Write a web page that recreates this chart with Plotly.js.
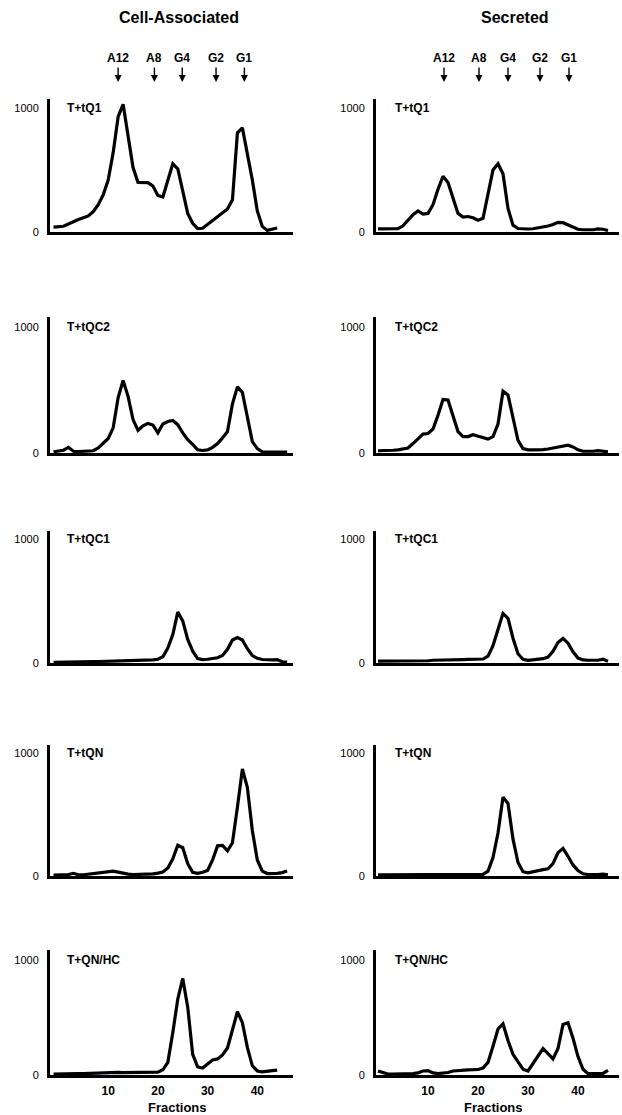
<!DOCTYPE html>
<html>
<head>
<meta charset="utf-8">
<script src="https://cdn.plot.ly/plotly-3.0.1.min.js"></script>
<style>html,body{margin:0;padding:0;background:#fff;}#chart{width:622px;height:1115px;}</style>
</head>
<body>
<div id="chart"></div>
<script>
// ---------------- DATA ----------------
const columnTitles = ['Cell-Associated', 'Secreted'];
const panelLabels = ['T+tQ1', 'T+tQC2', 'T+tQC1', 'T+tQN', 'T+QN/HC'];
const markerLabels = ['A12', 'A8', 'G4', 'G2', 'G1'];
const markerFractionsCell = [12, 19.3, 24.9, 31.7, 37.4];
const markerFractionsSecreted = [13.2, 20.2, 26, 32.4, 38.2];
const xTickValues = [10, 20, 30, 40];
const yTickValues = [0, 1000];
const yTickText = ['0', '1000'];
const xAxisTitle = 'Fractions';

const fractionsCell = [-1,0,1,2,3,4,5,6,7,8,9,10,11,12,13,14,15,16,17,18,19,20,21,22,23,24,25,26,27,28,29,30,31,32,33,34,35,36,37,38,39,40,41,42,43,44,45,46];
const fractionsSecreted = [0,1,2,3,4,5,6,7,8,9,10,11,12,13,14,15,16,17,18,19,20,21,22,23,24,25,26,27,28,29,30,31,32,33,34,35,36,37,38,39,40,41,42,43,44,45,46];

// Cell-associated (fractions -1 .. 46)
const cellTQ1   = [40,42,46,65,85,100,115,130,165,220,300,420,640,930,1030,760,520,400,400,398,370,295,282,410,550,510,330,150,70,28,30,60,95,125,155,185,260,800,840,640,420,170,45,13,20,32,null,null];
const cellTQC2  = [10,15,22,45,14,12,12,14,18,40,80,115,200,440,575,450,265,180,215,235,222,160,230,250,258,225,160,105,68,25,20,25,45,75,120,170,390,525,480,290,90,35,10,8,8,8,8,8];
const cellTQC1  = [5,5,6,6,7,8,9,10,11,12,13,14,15,16,17,18,18,19,20,22,25,30,50,120,230,410,340,190,95,35,28,30,35,42,60,110,185,205,185,115,60,38,28,25,25,28,10,8];
const cellTQN   = [8,8,8,12,22,10,10,15,18,22,28,35,40,32,22,15,11,12,14,16,18,24,32,65,140,250,230,100,30,22,30,45,130,245,248,205,270,560,870,720,370,130,40,20,20,22,28,40];
const cellTQNHC = [8,10,10,10,12,12,12,14,15,16,18,20,22,22,20,20,20,20,20,20,20,25,45,110,370,660,840,590,180,70,60,95,130,140,175,235,400,550,455,240,80,35,28,30,38,43,null,null];

// Secreted (fractions 0 .. 46)
const secTQ1   = [25,25,25,25,27,50,95,140,170,145,150,220,345,450,400,270,150,120,125,115,95,110,300,500,550,470,190,55,28,25,24,26,32,40,48,60,78,75,58,35,22,18,18,18,25,22,12];
const secTQC2  = [18,18,20,22,25,30,40,75,110,150,155,190,300,425,420,300,170,130,130,145,135,125,110,130,230,490,460,280,100,35,25,25,25,27,32,38,45,55,62,48,25,14,12,14,18,16,10];
const secTQC1  = [15,15,15,16,16,17,17,18,18,18,18,22,24,25,26,27,28,28,29,30,30,32,55,140,270,400,360,200,75,30,22,25,30,35,48,95,165,198,160,90,40,25,22,20,22,30,15];
const secTQN   = [10,10,10,10,10,10,10,10,10,10,10,10,10,10,10,10,10,12,12,12,12,14,40,150,350,640,590,300,110,35,25,35,45,52,58,100,190,225,160,90,45,18,12,10,12,15,10];
const secTQNHC = [35,25,8,8,8,8,10,12,18,35,38,18,12,15,22,35,40,43,45,46,48,60,110,250,400,445,300,180,110,50,35,100,160,230,185,140,230,440,455,320,160,50,12,12,12,14,40];

const cellSeries = [cellTQ1, cellTQC2, cellTQC1, cellTQN, cellTQNHC];
const secSeries = [secTQ1, secTQC2, secTQC1, secTQN, secTQNHC];

// ---------------- LAYOUT GEOMETRY (pixels) ----------------
const W = 622, H = 1115;
const FONT = 'Liberation Sans, Arial, Helvetica, sans-serif';
const px = x => x / W;
const py = y => 1 - y / H;
const rows = [
  {b: 232, t1000: 108, top: 99},
  {b: 453, t1000: 327, top: 317},
  {b: 663, t1000: 539, top: 531},
  {b: 876, t1000: 753, top: 745},
  {b: 1075, t1000: 960, top: 950}
];
const cols = [
  {l: 50, r: 293, x0: 58.5, s: 4.97, labelX: 65, titleX: 177, colTitleX: 179},
  {l: 376, r: 619, x0: 378, s: 5.0, labelX: 393, titleX: 494, colTitleX: 515}
];

const traces = [];
const layout = {
  width: W, height: H,
  margin: {l: 0, r: 0, t: 0, b: 0},
  paper_bgcolor: '#fff', plot_bgcolor: 'rgba(0,0,0,0)',
  showlegend: false,
  font: {family: FONT, color: '#000'},
  annotations: []
};

rows.forEach((row, r) => {
  cols.forEach((col, c) => {
    const idx = r * 2 + c + 1;
    const sx = idx === 1 ? '' : String(idx);
    traces.push({
      type: 'scatter', mode: 'lines',
      x: c === 0 ? fractionsCell : fractionsSecreted,
      y: c === 0 ? cellSeries[r] : secSeries[r],
      xaxis: 'x' + sx, yaxis: 'y' + sx,
      line: {color: '#000', width: 3.2},
      connectgaps: false, hoverinfo: 'skip', cliponaxis: false
    });
    layout['xaxis' + sx] = {
      domain: [px(col.l), px(col.r)],
      range: [(col.l - col.x0) / col.s, (col.r - col.x0) / col.s],
      anchor: 'y' + sx,
      showline: true, linewidth: 3, linecolor: '#000',
      showgrid: false, zeroline: false, ticks: '',
      tickvals: xTickValues,
      showticklabels: r === rows.length - 1,
      tickfont: {family: FONT, size: 12, weight: 'bold', color: '#000'},
      ticklabelstandoff: 3,
      fixedrange: true
    };
    layout['yaxis' + sx] = {
      domain: [py(row.b), py(row.top)],
      range: [0, 1000 * (row.b - row.top) / (row.b - row.t1000)],
      anchor: 'x' + sx,
      showline: true, linewidth: 3, linecolor: '#000',
      showgrid: false, zeroline: false, ticks: '',
      tickvals: yTickValues, ticktext: yTickText,
      tickfont: {family: FONT, size: 11, color: '#000'},
      ticklabelstandoff: 6,
      fixedrange: true
    };
    layout.annotations.push({
      text: '<b>' + panelLabels[r] + '</b>',
      xref: 'paper', yref: 'paper',
      x: px(col.labelX), y: py(row.t1000),
      xanchor: 'left', yanchor: 'middle',
      showarrow: false,
      font: {family: FONT, size: 12, color: '#000'}
    });
  });
});

cols.forEach((col, c) => {
  layout.annotations.push({
    text: '<b>' + columnTitles[c] + '</b>',
    xref: 'paper', yref: 'paper',
    x: px(col.colTitleX), y: py(17),
    xanchor: 'center', yanchor: 'middle', showarrow: false,
    font: {family: FONT, size: 16, color: '#000'}
  });
  layout.annotations.push({
    text: '<b>' + xAxisTitle + '</b>',
    xref: 'paper', yref: 'paper',
    x: px(col.titleX), y: py(1107),
    xanchor: 'center', yanchor: 'middle', showarrow: false,
    font: {family: FONT, size: 13, color: '#000'}
  });
  const fr = c === 0 ? markerFractionsCell : markerFractionsSecreted;
  markerLabels.forEach((lab, k) => {
    layout.annotations.push({
      text: '<b>' + lab + '</b>',
      xref: c === 0 ? 'x' : 'x2', yref: 'paper',
      x: fr[k], y: py(82),
      ax: 0, ay: -24,
      showarrow: true, arrowhead: 2, arrowsize: 1, arrowwidth: 1.4,
      arrowcolor: '#000', borderpad: 2,
      font: {family: FONT, size: 12, color: '#000'}
    });
  });
});

Plotly.newPlot('chart', traces, layout, {displayModeBar: false, staticPlot: true});
</script>
</body>
</html>
